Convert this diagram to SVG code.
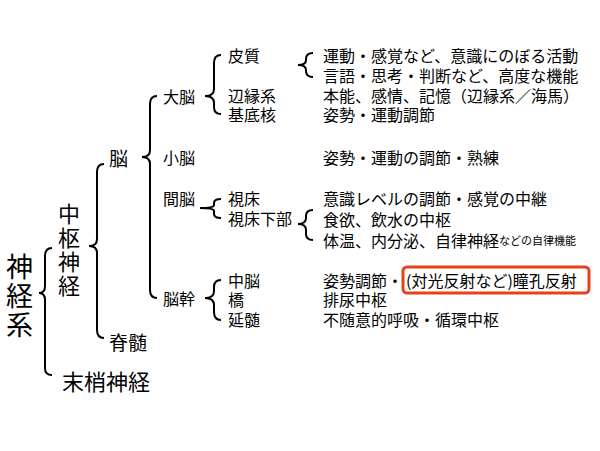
<svg xmlns="http://www.w3.org/2000/svg" width="600" height="451" viewBox="0 0 600 451">
<style>
text{font-family:"Noto Sans CJK JP","Noto Sans",sans-serif;fill:#000;dominant-baseline:central}
.s{font-size:16px}.m{font-size:19px}.l{font-size:22px}.xl{font-size:27px}
.b{fill:none;stroke:#000;stroke-width:2}
</style>
<rect width="600" height="451" fill="#fff"/>
<g id="connectors">
<path class="b" d="M52,248 Q45,248 45,256 L45,286 Q45,293 39,293 Q45,293 45,300 L45,368 Q45,375 52,375"/>
<path class="b" d="M104,164 Q97,164 97,172 L97,239 Q97,246 89,246 Q97,246 97,253 L97,330 Q97,338 104,338"/>
<path class="b" d="M157,96 Q150,96 150,104 L150,150 Q150,157 142,157 Q150,157 150,164 L150,290 Q150,298 157,298"/>
<path class="b" d="M221,55 Q214,55 214,63 L214,89 Q214,96 205,96 Q214,96 214,103 L214,107 Q214,114 221,114"/>
<path class="b" d="M221,199 Q214,199 214,203 L214,205 Q214,208 200,208 L200,208 Q214,208 214,211 L214,214 Q214,218 221,218"/>
<path class="b" d="M221,280 Q214,280 214,287 L214,291 Q214,298 205,298 Q214,298 214,305 L214,312 Q214,320 221,320"/>
<path class="b" d="M313,53 Q306,53 306,59 L306,60 Q306,65 298,65 Q306,65 306,70 L306,71 Q306,77 313,77"/>
<path class="b" d="M313,210 Q306,210 306,216 L306,218 Q306,224 298,224 Q306,224 306,230 L306,234 Q306,240 313,240"/>
</g>
<g id="n-shinkeikei"><text class="xl" x="6" y="265">神</text><text class="xl" x="6" y="294">経</text><text class="xl" x="6" y="323">系</text></g>
<g id="n-chusu"><text class="l" x="58" y="212">中</text><text class="l" x="58" y="236">枢</text><text class="l" x="58" y="260">神</text><text class="l" x="58" y="284">経</text></g>
<g id="n-masshou"><text class="l" x="62" y="380">末梢神経</text></g>
<g id="n-nou"><text class="m" x="109" y="157">脳</text></g>
<g id="n-sekizui"><text class="m" x="109" y="341">脊髄</text></g>
<g id="n-dainou"><text class="s" x="163" y="96">大脳</text></g>
<g id="n-shounou"><text class="s" x="163" y="157">小脳</text><text class="s" x="323" y="157">姿勢・運動の調節・熟練</text></g>
<g id="n-kannou"><text class="s" x="163" y="198">間脳</text></g>
<g id="n-noukan"><text class="s" x="163" y="298">脳幹</text></g>
<g id="n-hishitsu"><text class="s" x="228" y="55">皮質</text><text class="s" x="323" y="55">運動・感覚など、意識にのぼる活動</text><text class="s" x="323" y="75">言語・思考・判断など、高度な機能</text></g>
<g id="n-henen"><text class="s" x="228" y="95">辺縁系</text><text class="s" x="323" y="95">本能、感情、記憶（辺縁系／海馬）</text></g>
<g id="n-kiteikaku"><text class="s" x="228" y="114">基底核</text><text class="s" x="323" y="114">姿勢・運動調節</text></g>
<g id="n-shishou"><text class="s" x="228" y="198">視床</text><text class="s" x="323" y="198">意識レベルの調節・感覚の中継</text></g>
<g id="n-shishouka"><text class="s" x="228" y="218">視床下部</text><text class="s" x="323" y="219">食欲、飲水の中枢</text><text class="s" x="323" y="240">体温、内分泌、自律神経<tspan font-size="11">などの自律機能</tspan></text></g>
<g id="n-chunou"><text class="s" x="323" y="280">姿勢調節・<tspan x="406">(対光反射など)瞳孔反射</tspan></text><text class="s" x="228" y="280">中脳</text><rect x="403" y="267" width="186" height="26" rx="4" fill="none" stroke="#e8401c" stroke-width="3"/></g>
<g id="n-kyou"><text class="s" x="228" y="299">橋</text><text class="s" x="323" y="299">排尿中枢</text></g>
<g id="n-enzui"><text class="s" x="228" y="319">延髄</text><text class="s" x="323" y="319">不随意的呼吸・循環中枢</text></g>
</svg>
